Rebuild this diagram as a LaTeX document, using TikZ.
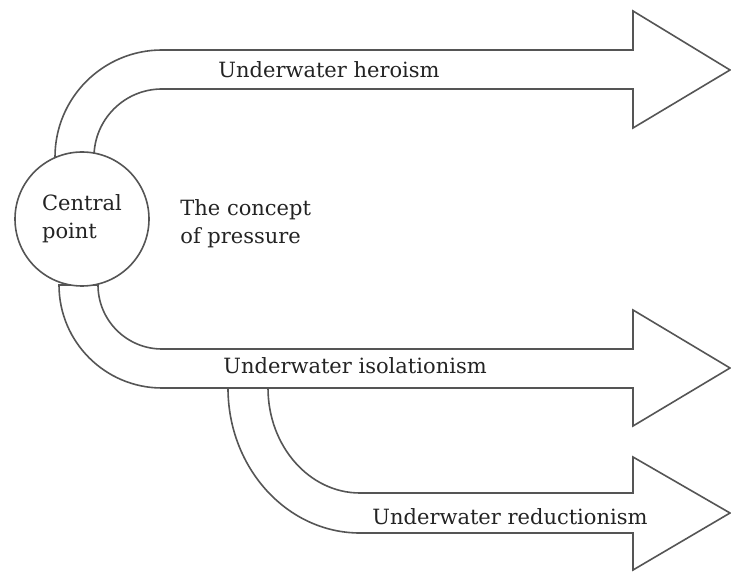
\documentclass[tikz,border=0pt]{standalone}
\usepackage{fontspec}
\setmainfont{DejaVu Serif}
\usetikzlibrary{positioning}
\definecolor{arrowline}{RGB}{85,85,85}
\definecolor{labeltext}{RGB}{35,35,35}
\newcommand{\labelfont}{\fontsize{10.5}{14}\selectfont}
\tikzset{
    blockarrow/.style={draw=arrowline, fill=white, line width=0.8pt, line join=miter},
    hub/.style={circle, draw=arrowline, fill=white, line width=0.8pt,
        minimum size=67pt, inner sep=0pt, align=left, font=\labelfont, text=labeltext},
    caption/.style={font=\labelfont, text=labeltext, inner sep=0pt, anchor=west, align=left}
}

\begin{document}
\begin{tikzpicture}[x=0.5pt, y=0.5pt]
    \useasboundingbox (0,0) rectangle (731,572);

    \draw[blockarrow] (228,184) arc[start angle=180, end angle=270, x radius=132, y radius=145]
        -- (633,39) -- (633,2) -- (730,59) -- (633,115) -- (633,79) -- (360,79)
        arc[start angle=270, end angle=180, x radius=92, y radius=105] -- cycle;
    \draw[blockarrow] (59,287) arc[start angle=180, end angle=270, radius=103]
        -- (633,184) -- (633,146) -- (730,204) -- (633,262) -- (633,223) -- (162,223)
        arc[start angle=270, end angle=180, radius=64] -- cycle;
    \draw[blockarrow] (55,415) arc[start angle=180, end angle=90, radius=107]
        -- (633,522) -- (633,561) -- (730,502) -- (633,444) -- (633,483) -- (162,483)
        arc[start angle=90, end angle=180, radius=68] -- cycle;

    \node[hub] (centre) at (82,353) {Central\\point};
    \node[caption] (concept) at (180,348) {The concept\\of pressure};

    \node[caption] (heroism) at (218,502) {Underwater heroism};
    \node[caption] (isolation) at (223,206) {Underwater isolationism};
    \node[caption] (reduction) at (372,55) {Underwater reductionism};

\end{tikzpicture}
\end{document}
